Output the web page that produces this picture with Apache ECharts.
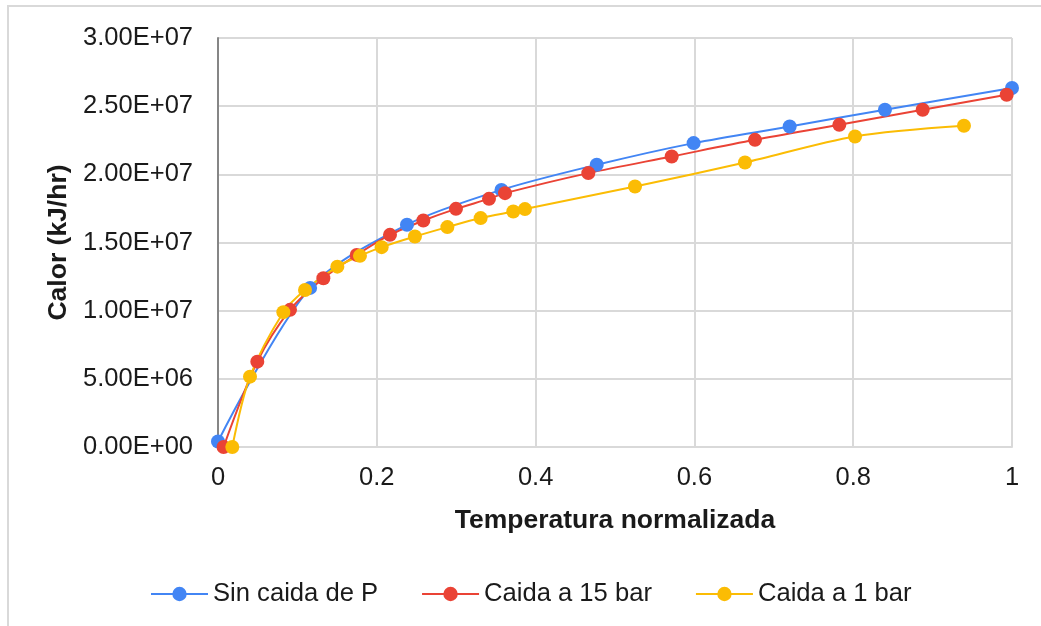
<!DOCTYPE html>
<html>
<head>
<meta charset="utf-8">
<script src="https://cdn.jsdelivr.net/npm/echarts@6/dist/echarts.min.js"></script>
<style>
  html, body { margin: 0; padding: 0; background: #fff; }
  #chart { width: 1041px; height: 626px; }
</style>
</head>
<body>
<div id="chart"></div>
<script>
// ---- data ----
const seriesNames = ['Sin caida de P', 'Caida a 15 bar', 'Caida a 1 bar'];

const sinCaidaX = [0, 0.116, 0.238, 0.357, 0.477, 0.599, 0.720, 0.840, 1.0];
const sinCaidaY = [4.0e5, 1.167e7, 1.63e7, 1.886e7, 2.07e7, 2.229e7, 2.351e7, 2.474e7, 2.633e7];

const caida15X = [0.007, 0.0495, 0.0907, 0.1327, 0.1747, 0.2166, 0.2586, 0.2997, 0.3413, 0.3615, 0.4664, 0.5714, 0.6763, 0.7825, 0.8875, 0.9933];
const caida15Y = [0, 6.26e6, 1.006e7, 1.238e7, 1.409e7, 1.556e7, 1.661e7, 1.747e7, 1.820e7, 1.862e7, 2.009e7, 2.131e7, 2.253e7, 2.363e7, 2.474e7, 2.584e7];

const caida1X = [0.018, 0.0403, 0.0823, 0.1096, 0.1503, 0.1788, 0.2061, 0.248, 0.2889, 0.3308, 0.3719, 0.3866, 0.5252, 0.6637, 0.8023, 0.9395];
const caida1Y = [0, 5.16e6, 9.89e6, 1.152e7, 1.323e7, 1.402e7, 1.466e7, 1.544e7, 1.613e7, 1.679e7, 1.727e7, 1.745e7, 1.911e7, 2.087e7, 2.278e7, 2.356e7];

const xTicks = ['0', '0.2', '0.4', '0.6', '0.8', '1'];

// ---- helpers ----
function zip(xs, ys) { return xs.map((x, i) => [x, ys[i]]); }
function sci(v) {
  if (v === 0) return '0.00E+00';
  const e = Math.floor(Math.log10(Math.abs(v)));
  const m = v / Math.pow(10, e);
  const es = (e < 0 ? '-' : '+') + String(Math.abs(e)).padStart(2, '0');
  return m.toFixed(2) + 'E' + es;
}
const colors = ['#4285F4', '#EA4335', '#FBBC04'];
const FONT = '"Liberation Sans", Arial, sans-serif';
const TXT = '#1a1a1a';

const chart = echarts.init(document.getElementById('chart'), null, { renderer: 'canvas' });

function lineSeries(name, data, color) {
  return {
    name: name,
    type: 'line',
    data: data,
    smooth: 0.3,
    symbol: 'circle',
    symbolSize: 14,
    showAllSymbol: true,
    itemStyle: { color: color },
    lineStyle: { color: color, width: 2 },
    emphasis: { disabled: true },
    animation: false
  };
}

chart.setOption({
  animation: false,
  backgroundColor: '#fff',
  color: colors,
  graphic: [{
    type: 'rect',
    shape: { x: 8, y: 6, width: 1100, height: 700 },
    style: { fill: null, stroke: '#d9d9d9', lineWidth: 2 },
    silent: true,
    z: -10
  }],
  grid: { left: 218, right: 29, top: 38, bottom: 179, containLabel: false },
  legend: {
    left: 145,
    top: 576,
    itemWidth: 57,
    itemHeight: 18,
    itemGap: 43,
    textStyle: { fontFamily: FONT, fontSize: 25.6, color: TXT },
    data: seriesNames
  },
  xAxis: {
    type: 'value',
    min: 0, max: 1, interval: 0.2,
    name: 'Temperatura normalizada',
    nameLocation: 'middle',
    nameGap: 60,
    nameTextStyle: { fontFamily: FONT, fontSize: 26.5, fontWeight: 'bold', color: TXT },
    axisLine: { show: true, lineStyle: { color: '#d9d9d9', width: 2 } },
    axisTick: { show: false },
    axisLabel: {
      fontFamily: FONT, fontSize: 25.5, color: TXT, margin: 18,
      formatter: function (v) { return xTicks[Math.round(v / 0.2)]; }
    },
    splitLine: { show: true, lineStyle: { color: '#d9d9d9', width: 2 } }
  },
  yAxis: {
    type: 'value',
    min: 0, max: 3e7, interval: 5e6,
    name: 'Calor (kJ/hr)',
    nameLocation: 'middle',
    nameGap: 144,
    nameRotate: 90,
    nameTextStyle: { fontFamily: FONT, fontSize: 26.5, fontWeight: 'bold', color: TXT },
    axisLine: { show: true, lineStyle: { color: '#868686', width: 2 } },
    axisTick: { show: false },
    axisLabel: {
      fontFamily: FONT, fontSize: 25.5, color: TXT, margin: 25,
      formatter: function (v) { return sci(v); }
    },
    splitLine: { show: true, lineStyle: { color: '#d9d9d9', width: 2 } }
  },
  series: [
    lineSeries(seriesNames[0], zip(sinCaidaX, sinCaidaY), colors[0]),
    lineSeries(seriesNames[1], zip(caida15X, caida15Y), colors[1]),
    lineSeries(seriesNames[2], zip(caida1X, caida1Y), colors[2])
  ]
});
</script>
</body>
</html>
